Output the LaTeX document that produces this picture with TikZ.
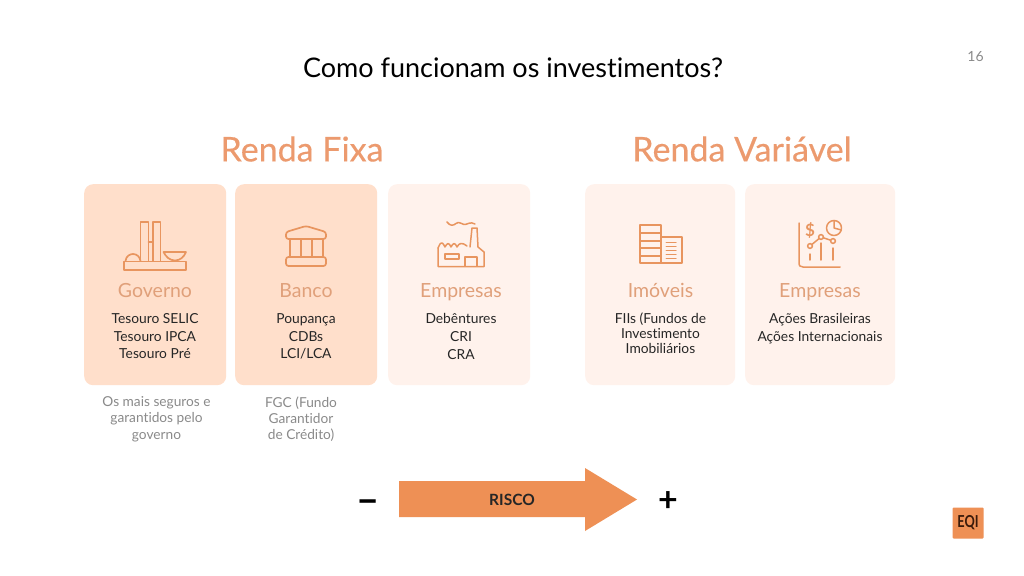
\documentclass[tikz,border=0pt]{standalone}
\usepackage{fontspec}
\setmainfont[Ligatures=NoCommon]{Lato}
\newfontface\headf[FakeBold=0.35,Ligatures=NoCommon]{Lato}
\definecolor{orng}{HTML}{EE9055}
\definecolor{head}{HTML}{EC9A6E}
\definecolor{dark}{HTML}{FFDFCB}
\definecolor{lite}{HTML}{FFF2EC}
\definecolor{lbl}{HTML}{E0A07A}
\definecolor{ic}{HTML}{E8955F}
\definecolor{gry}{HTML}{8A8A8A}
\definecolor{logot}{HTML}{3A1A0A}
\tikzset{
 card/.style={rounded corners=9pt,draw=none,anchor=north west,inner sep=0pt},
 cardd/.style={card,fill=dark},
 cardl/.style={card,fill=lite},
 headt/.style={text=head,font=\headf\fontsize{34}{38}\selectfont,inner sep=0pt},
 catt/.style={text=lbl,font=\fontsize{19.5}{20}\selectfont,inner sep=0pt,anchor=base},
 body/.style={text=black!85,font=\fontsize{13.8}{17.6}\selectfont,align=center,inner sep=0pt,anchor=north},
 note/.style={text=gry,font=\fontsize{13.7}{16.2}\selectfont,align=center,inner sep=0pt,anchor=north},
 icon/.style={draw=ic,line width=1.7pt,line join=round,line cap=round,fill=none},
 iconthin/.style={icon,line width=1.5pt},
 sign/.style={inner sep=0pt,font=\bfseries\fontsize{34}{34}\selectfont},
}
\begin{document}
\begin{tikzpicture}[x=1pt,y=-1pt]
\useasboundingbox[fill=white] (0,0) rectangle (1024,575);
\node[inner sep=0pt,font=\fontsize{27}{32}\selectfont] (title) at (513,68) {Como funcionam os investimentos?};
\node[inner sep=0pt,text=gry,font=\fontsize{14}{16}\selectfont] (page) at (975.5,57) {16};
\node[headt] (rf) at (302,149) {Renda Fixa};
\node[headt] (rv) at (742,149) {Renda Variável};
\node[cardd,minimum width=142pt,minimum height=201pt] (c1) at (84,184) {};
\node[cardd,minimum width=142pt,minimum height=201pt] (c2) at (235,184) {};
\node[cardl,minimum width=142pt,minimum height=201pt] (c3) at (388,184) {};
\node[cardl,minimum width=150pt,minimum height=201pt] (c4) at (585,184) {};
\node[cardl,minimum width=150pt,minimum height=201pt] (c5) at (745,184) {};
\node[catt] (t1) at (155,297) {Governo};
\node[catt] (t2) at (306,297) {Banco};
\node[catt] (t3) at (461,297) {Empresas};
\node[catt] (t4) at (660.5,297) {Imóveis};
\node[catt] (t5) at (820,297) {Empresas};
\node[body] (b1) at (155,313.5) {Tesouro SELIC\\Tesouro IPCA\\Tesouro Pré};
\node[body] (b2) at (306,313.5) {Poupança\\CDBs\\LCI/LCA};
\node[body] (b3) at (461,313.5) {Debêntures\\CRI\\CRA};
\node[body,font=\fontsize{13.8}{15.2}\selectfont] (b4) at (660.5,312.5) {FIIs (Fundos de\\Investimento\\Imobiliários};
\node[body] (b5) at (820,313.5) {Ações Brasileiras\\Ações Internacionais};
\node[note] (n1) at (156.5,396.5) {Os mais seguros e\\garantidos pelo\\governo};
\node[note] (n2) at (301,396.5) {FGC (Fundo\\Garantidor\\de Crédito)};
% arrow
\fill[orng] (399,481) -- (585,481) -- (585,468) -- (637,499.5) -- (585,531) -- (585,517) -- (399,517) -- cycle;
\node[inner sep=0pt,font=\bfseries\fontsize{15.5}{16}\selectfont,text=black!85] (risco) at (512,500) {RISCO};
\node[sign,font=\bfseries\fontsize{40}{40}\selectfont] (minus) at (368,507) {–};
\node[sign] (plus) at (668,502) {+};
% logo
\node[fill=orng,minimum width=31pt,minimum height=31pt,inner sep=0pt,text=logot,font=\bfseries\fontsize{15}{15}\selectfont,rounded corners=1pt] (logo) at (968,523) {\scalebox{0.85}[1.1]{EQI}};
% icon 1
\draw[icon] (124,261.5) rectangle (186,270);
\draw[icon] (140.5,261) -- (140.5,222) -- (148.5,222) -- (148.5,261);
\draw[icon] (153,261) -- (153,222) -- (160.5,222) -- (160.5,261);
\draw[icon] (148.5,242) -- (153,242);
\draw[icon] (125.5,261) .. controls (126,256) and (130,254) .. (133,254) .. controls (137,254) and (140,257) .. (140.5,261);
\draw[icon] (163.5,252) -- (186,252) .. controls (184,257) and (180,260.5) .. (175,260.5) .. controls (170,260.5) and (166,257) .. (163.5,252) -- cycle;
% icon 2
\draw[icon,rounded corners=2.5pt] (286,239) -- (286,232) -- (306,226) -- (326,232) -- (326,239) -- cycle;
\draw[icon,rounded corners=2.5pt] (286,257) rectangle (326,266);
\draw[icon] (290,239) -- (290,257) (301,239) -- (301,257) (312,239) -- (312,257) (323,239) -- (323,257);
% icon 3
\draw[iconthin] (438,248) -- (438,266.5) -- (484,266.5) -- (484,252) -- (478,247) -- (477,228) -- (472,228) -- (470,247);
\draw[iconthin] (438,248) -- (440,244) .. controls (442,242) and (443,243) .. (445,247) .. controls (447,243) and (449,242) .. (451,247) .. controls (453,243) and (455,242) .. (457,247) .. controls (459,243) and (462,242) .. (467,246);
\draw[iconthin] (445,254) rectangle (459,259);
\draw[iconthin] (465,266) -- (465,257) -- (477,257) -- (477,266);
\draw[iconthin] (447,222) .. controls (450,226) and (453,226) .. (456,223.5) .. controls (459,221) and (461,224) .. (464,224.5) .. controls (467,225) and (470,221) .. (475,224);
% icon 4
\draw[iconthin] (640,225) rectangle (661,263);
\draw[iconthin] (640,233) -- (661,233) (640,241) -- (661,241) (640,248) -- (661,248) (640,256) -- (661,256);
\draw[iconthin] (661,237) -- (682,237) -- (682,263) -- (661,263);
\foreach \yy in {242,246,250,254,258}{\draw[iconthin,line width=1pt] (666,\yy) -- (676,\yy);}
% icon 5
\draw[iconthin] (799,223) -- (799,262) .. controls (799,266) and (800,267) .. (803,267) -- (840,267);
\node[inner sep=0pt,text=ic,font=\bfseries\fontsize{17}{17}\selectfont] (dollar) at (810,230) {\$};
\draw[iconthin] (834,228) circle[radius=7.5];
\draw[iconthin] (834,228) -- (834,220.5) (834,228) -- (841.3,230);
\draw[iconthin] (810,246) -- (821,237) -- (833,241);
\foreach \p/\q in {810/246,821/237,833/241}{\draw[iconthin,fill=lite] (\p,\q) circle[radius=2.4];}
\draw[iconthin] (810,254) -- (810,260) (821,243) -- (821,260) (833,248) -- (833,260);
\end{tikzpicture}
\end{document}
